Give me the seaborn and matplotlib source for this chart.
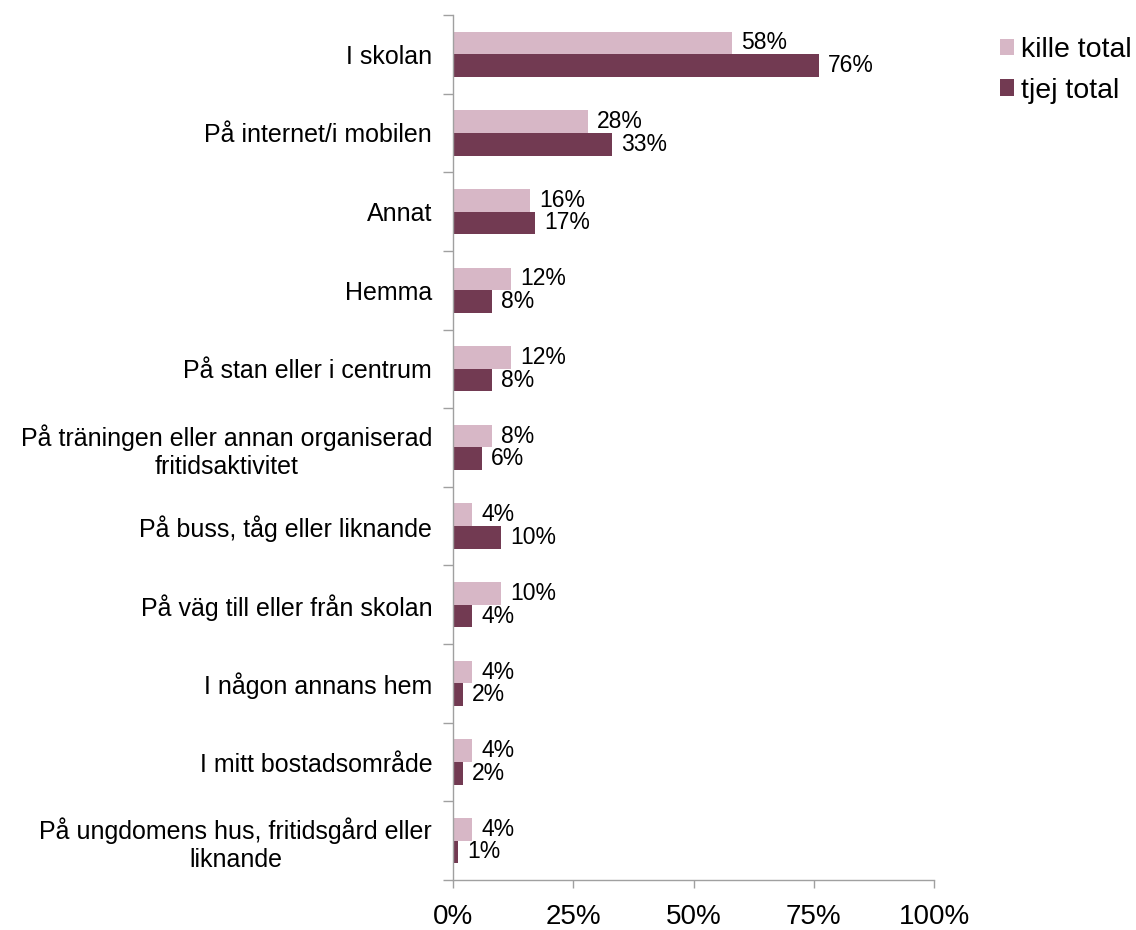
import matplotlib
matplotlib.use("Agg")
import matplotlib.pyplot as plt
import seaborn as sns
import pandas as pd
import numpy as np
from matplotlib.patches import Patch

categories = [
    "I skolan",
    "På internet/i mobilen",
    "Annat",
    "Hemma",
    "På stan eller i centrum",
    "På träningen eller annan organiserad\nfritidsaktivitet",
    "På buss, tåg eller liknande",
    "På väg till eller från skolan",
    "I någon annans hem",
    "I mitt bostadsområde",
    "På ungdomens hus, fritidsgård eller\nliknande",
]
kille_total = [58, 28, 16, 12, 12, 8, 4, 10, 4, 4, 4]
tjej_total = [76, 33, 17, 8, 8, 6, 10, 4, 2, 2, 1]
series_names = ["kille total", "tjej total"]
colors = ["#D7B7C6", "#723A52"]
x_ticks = [0, 25, 50, 75, 100]

sns.set_theme(style="white")
plt.rcParams["font.family"] = ["Liberation Sans", "DejaVu Sans"]

df = pd.DataFrame({
    "cat": categories * 2,
    "val": kille_total + tjej_total,
    "serie": [series_names[0]] * len(categories) + [series_names[1]] * len(categories),
})

fig = plt.figure(figsize=(11.36, 9.3), dpi=100)
ax = fig.add_axes([0.3988, 0.0538, 0.4234, 0.9301])

sns.barplot(data=df, y="cat", x="val", hue="serie", order=categories,
            hue_order=series_names, palette=colors, orient="h",
            width=0.575, saturation=1, errorbar=None, legend=False,
            linewidth=0, ax=ax)

for cont in ax.containers:
    labels = [f"{int(round(v))}%" for v in cont.datavalues]
    ax.bar_label(cont, labels=labels, padding=6.5, fontsize=16.5, color="#000000")

ax.set_xlim(0, 100)
ax.set_ylim(len(categories) - 0.5, -0.5)
ax.set_xticks(x_ticks)
ax.set_xticklabels([f"{t}%" for t in x_ticks], fontsize=20, color="#000000")
ax.set_xlabel("")
ax.set_ylabel("")
ax.tick_params(axis="y", which="major", left=False, length=0, labelsize=18,
               pad=15, labelcolor="#000000")
ax.set_yticks(np.arange(-0.5, len(categories), 1), minor=True)
ax.tick_params(axis="y", which="minor", left=True, length=7, color="#A0A0A0",
               width=1, direction="out")
ax.tick_params(axis="x", which="major", bottom=True, length=6, color="#A0A0A0",
               width=1, direction="out", pad=11)
for lbl in ax.get_yticklabels():
    lbl.set_multialignment("center")

for s in ["top", "right"]:
    ax.spines[s].set_visible(False)
for s in ["left", "bottom"]:
    ax.spines[s].set_color("#A0A0A0")
    ax.spines[s].set_linewidth(1)

handles = [Patch(facecolor=c, edgecolor="none") for c in colors]
fig.legend(handles, series_names, loc="upper left", bbox_to_anchor=(0.8803, 0.960),
           frameon=False, fontsize=20.5, handlelength=0.5, handleheight=0.5,
           handletextpad=0.25, labelspacing=0.51, borderpad=0, borderaxespad=0,
           labelcolor="#000000")

fig.savefig("out.png", dpi=100)
